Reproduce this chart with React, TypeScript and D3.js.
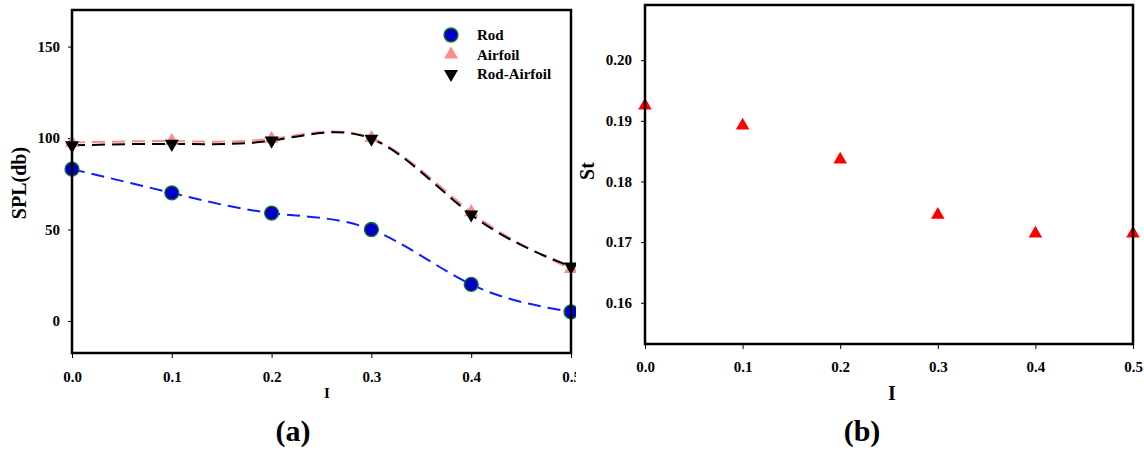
import React, { useEffect, useRef } from "react";
import * as d3 from "d3";

// intensity values (x axis for both panels)
const intensity = [0.0, 0.1, 0.2, 0.3, 0.4, 0.5];
const xTicks = [0.0, 0.1, 0.2, 0.3, 0.4, 0.5];

// panel (a): SPL
const splRod = [83, 70, 59, 50, 20, 5];
const splAirfoil = [97.5, 98.3, 99.6, 100, 59.5, 28.4];
const splRodAirfoil = [96, 96.8, 98.6, 99.6, 58.2, 29.7];
const splTicks = [0, 50, 100, 150];

// panel (b): Strouhal number
const strouhal = [0.1925, 0.1892, 0.1836, 0.1745, 0.1714, 0.1714];
const stTicks = [0.16, 0.17, 0.18, 0.19, 0.2];

const legendNames = ["Rod", "Airfoil", "Rod-Airfoil"];

const FONT = "'Liberation Serif', 'Times New Roman', serif";
const DASH = "13,7";

export default function App() {
  const ref = useRef<SVGSVGElement>(null);

  useEffect(() => {
    const svg = d3.select(ref.current);
    svg.selectAll("*").remove();

    const styleTicks = (g: any) =>
      g
        .selectAll("text")
        .attr("font-family", FONT)
        .attr("font-weight", "bold")
        .attr("font-size", 15)
        .attr("fill", "#000");

    // ---------- panel (a) ----------
    const a = { left: 72, right: 571, top: 10, bottom: 353 };
    svg
      .append("defs")
      .append("clipPath")
      .attr("id", "clipA")
      .append("rect")
      .attr("x", 0)
      .attr("y", 0)
      .attr("width", 576)
      .attr("height", 452);

    const ga = svg.append("g").attr("clip-path", "url(#clipA)");

    const xA = d3.scaleLinear().domain([0, 0.5]).range([a.left, a.right]);
    const yA = d3.scaleLinear().domain([-17.5, 170]).range([a.bottom, a.top]);

    const lineA = (vals: number[]) =>
      d3
        .line<number>()
        .x((_, i) => xA(intensity[i]))
        .y((d) => yA(d))
        .curve(d3.curveNatural)(vals);

    // x axis
    ga.append("g")
      .attr("transform", `translate(0,${a.bottom})`)
      .call(d3.axisBottom(xA).tickValues(xTicks).tickSize(5).tickPadding(13).tickFormat(d3.format(".1f")))
      .call((g) => g.select(".domain").remove())
      .call(styleTicks);

    // y axis
    ga.append("g")
      .attr("transform", `translate(${a.left},0)`)
      .call(d3.axisLeft(yA).tickValues(splTicks).tickSize(4).tickPadding(8))
      .call((g) => g.select(".domain").remove())
      .call(styleTicks);

    // lines
    ga.append("path")
      .attr("d", lineA(splAirfoil))
      .attr("fill", "none")
      .attr("stroke", "#ff8c8c")
      .attr("stroke-width", 2)
      .attr("stroke-dasharray", DASH);
    ga.append("path")
      .attr("d", lineA(splRodAirfoil))
      .attr("fill", "none")
      .attr("stroke", "#000")
      .attr("stroke-width", 2)
      .attr("stroke-dasharray", DASH);
    ga.append("path")
      .attr("d", lineA(splRod))
      .attr("fill", "none")
      .attr("stroke", "#0a1eff")
      .attr("stroke-width", 2)
      .attr("stroke-dasharray", DASH);

    const triUp = d3.symbol().type(d3.symbolTriangle).size(85);

    // markers
    ga.selectAll(".airfoil")
      .data(splAirfoil)
      .join("path")
      .attr("d", triUp())
      .attr("transform", (d, i) => `translate(${xA(intensity[i])},${yA(d)})`)
      .attr("fill", "#ff8c8c");
    ga.selectAll(".rodairfoil")
      .data(splRodAirfoil)
      .join("path")
      .attr("d", triUp())
      .attr("transform", (d, i) => `translate(${xA(intensity[i])},${yA(d)}) rotate(180)`)
      .attr("fill", "#000");
    ga.selectAll(".rod")
      .data(splRod)
      .join("circle")
      .attr("cx", (_, i) => xA(intensity[i]))
      .attr("cy", (d) => yA(d))
      .attr("r", 7)
      .attr("fill", "#0000c8")
      .attr("stroke", "#1d7a1d")
      .attr("stroke-width", 1.3);

    // frame
    ga.append("rect")
      .attr("x", a.left)
      .attr("y", a.top)
      .attr("width", a.right - a.left)
      .attr("height", a.bottom - a.top)
      .attr("fill", "none")
      .attr("stroke", "#000")
      .attr("stroke-width", 2.5);

    // legend
    const legend = ga
      .selectAll(".legend")
      .data(legendNames)
      .join("g")
      .attr("transform", (_, i) => `translate(451,${35 + i * 19.5})`);
    legend.each(function (d, i) {
      const g = d3.select(this);
      if (i === 0) g.append("circle").attr("r", 7).attr("fill", "#0000c8").attr("stroke", "#1d7a1d").attr("stroke-width", 1.3);
      if (i === 1) g.append("path").attr("d", triUp()).attr("fill", "#ff8c8c");
      if (i === 2) g.append("path").attr("d", triUp()).attr("transform", "rotate(180)").attr("fill", "#000");
      g.append("text")
        .attr("x", 26)
        .attr("y", 5)
        .attr("font-family", FONT)
        .attr("font-weight", "bold")
        .attr("font-size", 15)
        .text(d);
    });

    ga.append("text")
      .attr("x", 327)
      .attr("y", 398)
      .attr("text-anchor", "middle")
      .attr("font-family", FONT)
      .attr("font-weight", "bold")
      .attr("font-size", 15)
      .text("I");
    ga.append("text")
      .attr("transform", "translate(26,183) rotate(-90)")
      .attr("text-anchor", "middle")
      .attr("font-family", FONT)
      .attr("font-weight", "bold")
      .attr("font-size", 20)
      .text("SPL(db)");
    ga.append("text")
      .attr("x", 293)
      .attr("y", 441)
      .attr("text-anchor", "middle")
      .attr("font-family", FONT)
      .attr("font-weight", "bold")
      .attr("font-size", 30)
      .text("(a)");

    // ---------- panel (b) ----------
    const b = { left: 645, right: 1133, top: 5, bottom: 344 };
    const gb = svg.append("g");
    const xB = d3.scaleLinear().domain([0, 0.5]).range([b.left, b.right]);
    const yB = d3.scaleLinear().domain([0.1532, 0.2091]).range([b.bottom, b.top]);

    gb.append("g")
      .attr("transform", `translate(0,${b.bottom})`)
      .call(d3.axisBottom(xB).tickValues(xTicks).tickSize(5).tickPadding(12).tickFormat(d3.format(".1f")))
      .call((g) => g.select(".domain").remove())
      .call(styleTicks);
    gb.append("g")
      .attr("transform", `translate(${b.left},0)`)
      .call(d3.axisLeft(yB).tickValues(stTicks).tickSize(4).tickPadding(9).tickFormat(d3.format(".2f")))
      .call((g) => g.select(".domain").remove())
      .call(styleTicks);

    gb.selectAll(".st")
      .data(strouhal)
      .join("path")
      .attr("d", d3.symbol().type(d3.symbolTriangle).size(80)())
      .attr("transform", (d, i) => `translate(${xB(intensity[i])},${yB(d)})`)
      .attr("fill", "#ff0000");

    gb.append("rect")
      .attr("x", b.left)
      .attr("y", b.top)
      .attr("width", b.right - b.left)
      .attr("height", b.bottom - b.top)
      .attr("fill", "none")
      .attr("stroke", "#000")
      .attr("stroke-width", 2.5);

    gb.append("text")
      .attr("x", 892)
      .attr("y", 400)
      .attr("text-anchor", "middle")
      .attr("font-family", FONT)
      .attr("font-weight", "bold")
      .attr("font-size", 20)
      .text("I");
    gb.append("text")
      .attr("transform", "translate(594,171) rotate(-90)")
      .attr("text-anchor", "middle")
      .attr("font-family", FONT)
      .attr("font-weight", "bold")
      .attr("font-size", 20)
      .text("St");
    gb.append("text")
      .attr("x", 862)
      .attr("y", 441)
      .attr("text-anchor", "middle")
      .attr("font-family", FONT)
      .attr("font-weight", "bold")
      .attr("font-size", 30)
      .text("(b)");
  }, []);

  return (
    <svg
      ref={ref}
      width={1144}
      height={452}
      style={{ position: "absolute", left: 0, top: 0, background: "#fff" }}
    />
  );
}
